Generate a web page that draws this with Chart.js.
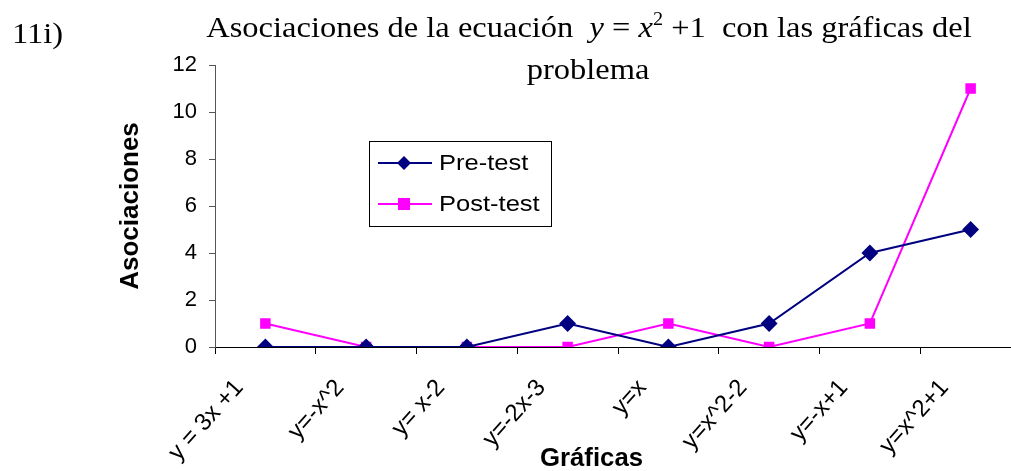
<!DOCTYPE html>
<html><head><meta charset="utf-8">
<script src="https://cdn.jsdelivr.net/npm/chart.js@4/dist/chart.umd.min.js"></script>
<style>html,body{margin:0;padding:0;overflow:hidden;background:#fff}#wrap{width:1030px;height:471px}</style>
</head><body><div id="wrap"><canvas id="c" width="1030" height="471"></canvas></div>
<script>
const categories = ["y = 3x +1","y=-x^2","y= x-2","y=-2x-3","y=x","y=x^2-2","y=-x+1","y=x^2+1"];
const preTest = [0,0,0,1,0,1,4,5];
const postTest = [1,0,0,0,1,0,1,11];
const yTicks = [0,2,4,6,8,10,12];

function sText(ctx, txt, x, y, sx){
  ctx.save(); ctx.translate(x,y); ctx.scale(sx,1); ctx.fillText(txt,0,0); ctx.restore();
}

const textPlugin = {
  id:'texts',
  afterDraw(chart){
    const ctx = chart.ctx;
    const SX = 1.12;
    ctx.save();
    ctx.fillStyle = '#000';
    ctx.textBaseline = 'alphabetic';
    ctx.textAlign = 'left';
    ctx.font = '29px "Liberation Serif"';
    sText(ctx, '11i)', 12, 43, SX);
    const parts = [
      ['Asociaciones de la ecuación  ','29px "Liberation Serif"',0],
      ['y','italic 29px "Liberation Serif"',0],
      [' = ','29px "Liberation Serif"',0],
      ['x','italic 29px "Liberation Serif"',0],
      ['2','18px "Liberation Serif"',-12],
      [' +1  con las gráficas del','29px "Liberation Serif"',0]
    ];
    let total = 0;
    parts.forEach(p=>{ctx.font=p[1]; total += ctx.measureText(p[0]).width*SX;});
    let x = 589 - total/2;
    parts.forEach(p=>{ctx.font=p[1]; sText(ctx, p[0], x, 37+p[2], SX); x += ctx.measureText(p[0]).width*SX;});
    ctx.font = '29px "Liberation Serif"';
    const pw = ctx.measureText('problema').width*SX;
    sText(ctx, 'problema', 588 - pw/2, 79, SX);
    // x axis title
    ctx.font = 'bold 25px "Liberation Sans"';
    const gw = ctx.measureText('Gráficas').width;
    sText(ctx, 'Gráficas', 590 - gw/2, 466, 1.03);
    // legend
    const lx = 369, ly = 141, lw = 182, lh = 85;
    ctx.strokeStyle = '#000'; ctx.lineWidth = 1;
    ctx.strokeRect(lx+0.5, ly+0.5, lw, lh);
    const items = [[chart.data.datasets[0],163],[chart.data.datasets[1],204]];
    items.forEach(([ds,yy])=>{
      ctx.strokeStyle = ds.borderColor; ctx.lineWidth = 2;
      ctx.beginPath(); ctx.moveTo(378,yy); ctx.lineTo(432,yy); ctx.stroke();
      ctx.fillStyle = ds.backgroundColor;
      if (ds.pointStyle==='rectRot'){
        ctx.beginPath(); ctx.moveTo(404,yy-7); ctx.lineTo(411,yy); ctx.lineTo(404,yy+7); ctx.lineTo(397,yy); ctx.closePath(); ctx.fill();
      } else {
        ctx.fillRect(398,yy-6,12,12);
      }
      ctx.fillStyle = '#000'; ctx.textAlign='left'; ctx.textBaseline='middle';
      ctx.font = '22px "Liberation Sans"';
      sText(ctx, ds.label, 439, yy+1, 1.16);
    });
    ctx.restore();
  }
};

new Chart(document.getElementById('c'), {
  type:'line',
  data:{labels:categories, datasets:[
    {label:'Pre-test', data:preTest, borderColor:'#000080', backgroundColor:'#000080', borderWidth:2, pointStyle:'rectRot', pointRadius:7, pointHoverRadius:7, tension:0},
    {label:'Post-test', data:postTest, borderColor:'#FF00FF', backgroundColor:'#FF00FF', borderWidth:2, pointStyle:'rect', pointRadius:6, pointHoverRadius:6, tension:0}
  ]},
  options:{
    responsive:false, animation:false,
    layout:{padding:{top:65,left:115,right:9,bottom:0}},
    plugins:{legend:{display:false}, title:{display:false}, tooltip:{enabled:false}},
    scales:{
      x:{
        offset:true,
        grid:{display:true, drawOnChartArea:false, drawTicks:true, tickLength:7, color:'#000', offset:true},
        border:{display:true, color:'#000', width:1},
        ticks:{autoSkip:false, maxRotation:48, minRotation:48, color:'#000', font:{family:'"Liberation Sans"', size:24}, padding:20, labelOffset:-26},
        afterFit(s){ s.height = 124; }
      },
      y:{
        min:0, max:12,
        afterBuildTicks(s){ s.ticks = yTicks.map(v=>({value:v})); },
        grid:{display:true, drawOnChartArea:false, drawTicks:true, tickLength:6, color:'#555'},
        border:{display:true, color:'#555', width:1},
        ticks:{color:'#000', font:{family:'"Liberation Sans"', size:22}, padding:12},
        title:{display:true, text:'Asociaciones', color:'#000', font:{family:'"Liberation Sans"', size:26, weight:'bold'}, padding:{top:0,bottom:0}},
        afterFit(s){ s.width = 100; }
      }
    }
  },
  plugins:[textPlugin]
});
</script>
</body></html>
